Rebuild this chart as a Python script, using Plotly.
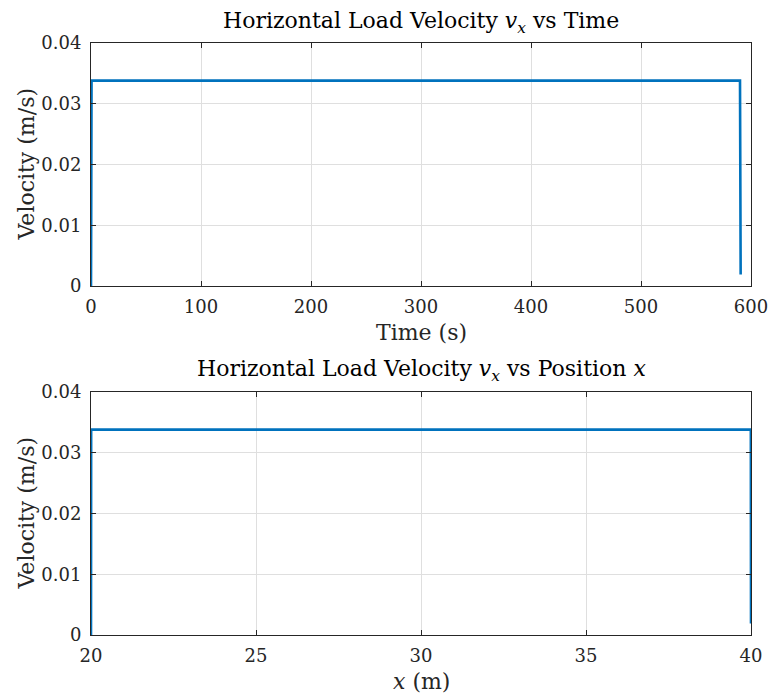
import plotly.graph_objects as go
from plotly.subplots import make_subplots

# Data
time_s = [0, 0.5, 590.0, 590.6]
vel_time = [0, 0.0338, 0.0338, 0.0019]

pos_x = [20.0, 20.005, 39.995, 40.0]
vel_pos = [0, 0.0338, 0.0338, 0.0019]

time_ticks = [0, 100, 200, 300, 400, 500, 600]
pos_ticks = [20, 25, 30, 35, 40]
vel_ticks = [0, 0.01, 0.02, 0.03, 0.04]
vel_tick_labels = ["0", "0.01", "0.02", "0.03", "0.04"]

BLUE = "#0072BD"
AX = "#262626"
GRID = "#dfdfdf"
FONT = "DejaVu Serif"
TICK_SIZE = 18
LABEL_SIZE = 22
TITLE_SIZE = 22

fig = make_subplots(rows=2, cols=1, vertical_spacing=0.0)

fig.add_trace(go.Scatter(x=time_s, y=vel_time, mode="lines",
                         line=dict(color=BLUE, width=2.6), showlegend=False), row=1, col=1)
fig.add_trace(go.Scatter(x=pos_x, y=vel_pos, mode="lines",
                         line=dict(color=BLUE, width=2.6), showlegend=False), row=2, col=1)

common_axis = dict(showline=True, linecolor=AX, linewidth=1, mirror="ticks",
                   ticks="inside", ticklen=5, tickcolor=AX, tickwidth=1,
                   showgrid=True, gridcolor=GRID, gridwidth=1, zeroline=False,
                   automargin=False,
                   tickfont=dict(family=FONT, size=TICK_SIZE, color=AX))

h = 243 / 592
fig.update_layout(
    width=769, height=697,
    margin=dict(l=91, r=18, t=43, b=62),
    paper_bgcolor="white", plot_bgcolor="white",
    font=dict(family=FONT, color=AX),
    xaxis=dict(domain=[0, 1], range=[0, 600], tickvals=time_ticks, anchor="y",
               ticklabelstandoff=4, **common_axis),
    yaxis=dict(domain=[1 - h, 1], range=[0, 0.04], tickvals=vel_ticks, ticktext=vel_tick_labels,
               anchor="x", ticklabelstandoff=5, **common_axis),
    xaxis2=dict(domain=[0, 1], range=[20, 40], tickvals=pos_ticks, anchor="y2",
                ticklabelstandoff=4, **common_axis),
    yaxis2=dict(domain=[0, h], range=[0, 0.04], tickvals=vel_ticks, ticktext=vel_tick_labels,
                anchor="x2", ticklabelstandoff=5, **common_axis),
)

lab_font = dict(family=FONT, size=LABEL_SIZE, color=AX)
tit_font = dict(family=FONT, size=TITLE_SIZE, color="black")

# axis labels
fig.add_annotation(text="Time (s)", xref="x domain", yref="y domain", x=0.5, y=0, yshift=-46,
                   yanchor="middle", showarrow=False, font=lab_font)
fig.add_annotation(text="<i>x</i> (m)", xref="x2 domain", yref="y2 domain", x=0.5, y=0, yshift=-46,
                   yanchor="middle", showarrow=False, font=lab_font)
fig.add_annotation(text="Velocity (m/s)", xref="x domain", yref="y domain", x=0, y=0.5, xshift=-65,
                   xanchor="center", textangle=-90, showarrow=False, font=lab_font)
fig.add_annotation(text="Velocity (m/s)", xref="x2 domain", yref="y2 domain", x=0, y=0.5, xshift=-65,
                   xanchor="center", textangle=-90, showarrow=False, font=lab_font)

# titles
fig.add_annotation(text="Horizontal Load Velocity <i>v</i><sub><i>x</i></sub> vs Time",
                   xref="x domain", yref="y domain", x=0.5, y=1, yshift=21, yanchor="middle",
                   showarrow=False, font=tit_font)
fig.add_annotation(text="Horizontal Load Velocity <i>v</i><sub><i>x</i></sub> vs Position <i>x</i>",
                   xref="x2 domain", yref="y2 domain", x=0.5, y=1, yshift=21, yanchor="middle",
                   showarrow=False, font=tit_font)

fig.write_html("out.html")
